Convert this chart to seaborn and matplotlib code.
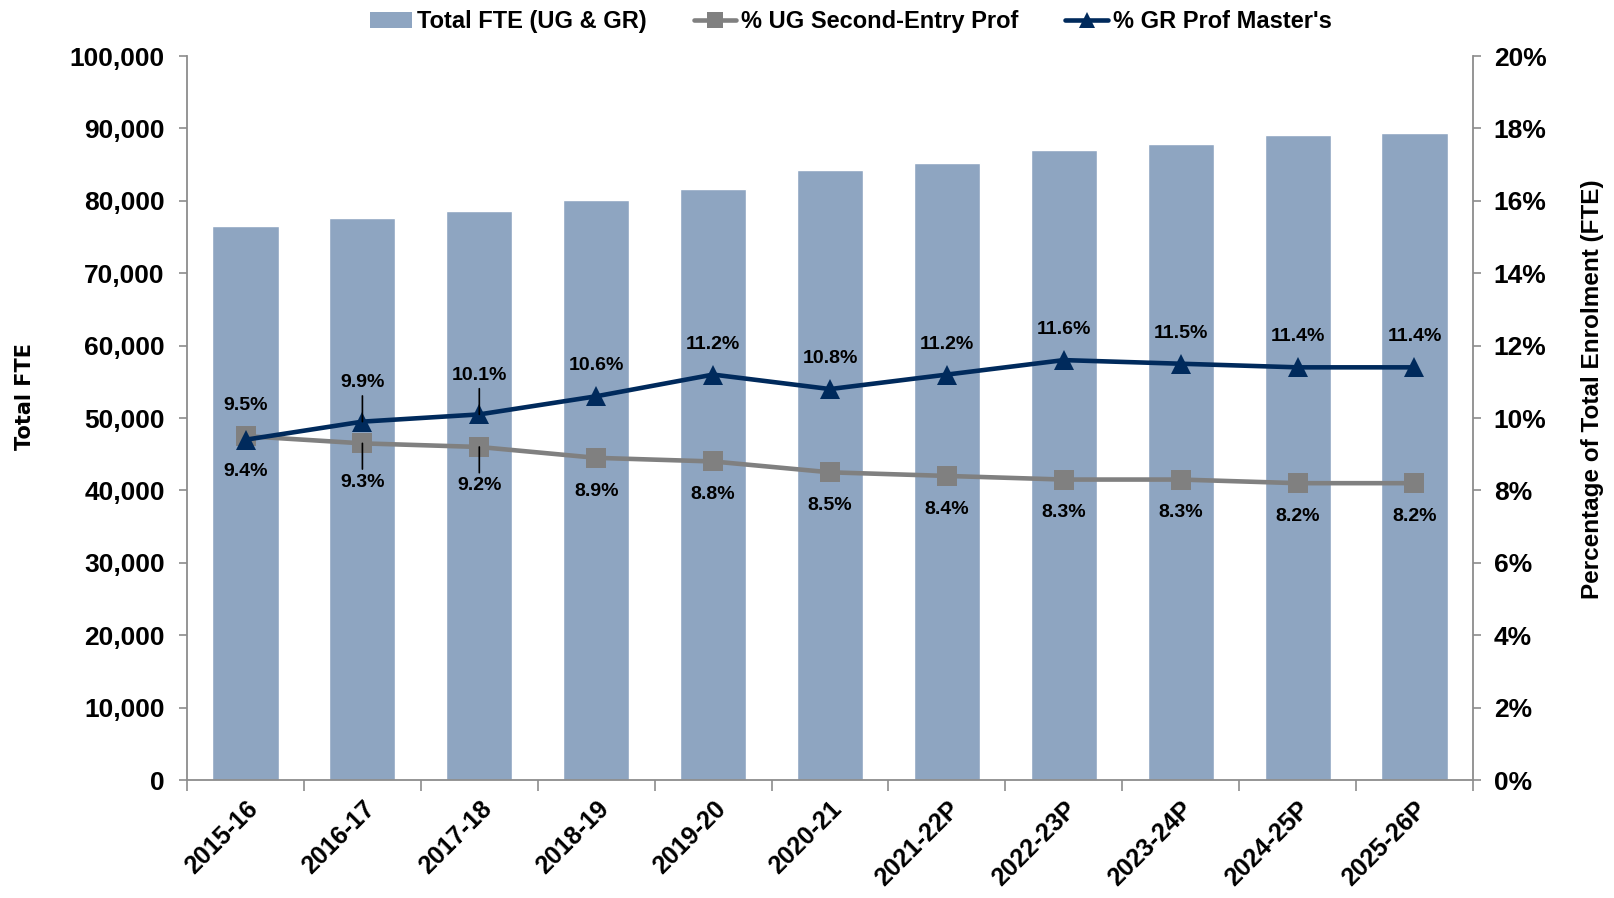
import numpy as np
import matplotlib
matplotlib.use("Agg")
import matplotlib.pyplot as plt
import seaborn as sns
from matplotlib.ticker import FuncFormatter, MultipleLocator
from matplotlib.lines import Line2D
from matplotlib.patches import Patch

years = ["2015-16", "2016-17", "2017-18", "2018-19", "2019-20", "2020-21",
         "2021-22P", "2022-23P", "2023-24P", "2024-25P", "2025-26P"]
total_fte = [76550, 77650, 78600, 80050, 81700, 84200, 85250, 87000, 87800, 89050, 89400]
ug_second_entry = [9.5, 9.3, 9.2, 8.9, 8.8, 8.5, 8.4, 8.3, 8.3, 8.2, 8.2]
gr_prof_masters = [9.4, 9.9, 10.1, 10.6, 11.2, 10.8, 11.2, 11.6, 11.5, 11.4, 11.4]

BAR = "#8ea5c1"
GRAY = "#808080"
NAVY = "#002a5c"
AXIS = "#8c8c8c"

sns.set_theme(style="white")
plt.rcParams["font.family"] = ["Liberation Sans", "DejaVu Sans"]
plt.rcParams["font.weight"] = "bold"
plt.rcParams["text.color"] = "black"
plt.rcParams["axes.labelcolor"] = "black"
plt.rcParams["xtick.color"] = "black"
plt.rcParams["ytick.color"] = "black"

fig = plt.figure(figsize=(16.14, 8.98), dpi=100)
ax = fig.add_axes([0.1159, 0.1314, 0.7967, 0.8062])

sns.barplot(x=years, y=total_fte, color=BAR, saturation=1, width=0.565, ax=ax)
ax.set_xlim(-0.5, len(years) - 0.5)
ax.set_ylim(0, 100000)

ax2 = ax.twinx()
pos = np.arange(len(years))
sns.lineplot(x=pos, y=ug_second_entry, ax=ax2, color=GRAY, linewidth=3.3,
             marker="s", markersize=15, markeredgewidth=0)
sns.lineplot(x=pos, y=gr_prof_masters, ax=ax2, color=NAVY, linewidth=3.3,
             marker="^", markersize=15, markeredgewidth=0)
ax2.set_ylim(0, 20)
ax2.set_xlim(-0.5, len(years) - 0.5)

# data labels
lab = dict(ha="center", va="center", fontsize=14, fontweight="bold",
           color="black", textcoords="offset points")
leader = dict(arrowstyle="-", color="black", lw=1.2, shrinkA=1, shrinkB=0)
for i, (u, g) in enumerate(zip(ug_second_entry, gr_prof_masters)):
    if i == 0:
        ax2.annotate(f"{u:.1f}%", (i, u), xytext=(0, 22), **lab)
        ax2.annotate(f"{g:.1f}%", (i, g), xytext=(0, -23), **lab)
    elif i in (1, 2):
        ax2.annotate(f"{g:.1f}%", (i, g), xytext=(0, 28), arrowprops=leader, **lab)
        ax2.annotate(f"{u:.1f}%", (i, u), xytext=(0, -28), arrowprops=leader, **lab)
    else:
        ax2.annotate(f"{g:.1f}%", (i, g), xytext=(0, 22), **lab)
        ax2.annotate(f"{u:.1f}%", (i, u), xytext=(0, -24), **lab)

# axes styling
for a in (ax, ax2):
    a.spines["top"].set_visible(False)
    a.set_xlabel("")
ax.spines["right"].set_visible(False)
ax2.spines["left"].set_visible(False)
ax2.spines["bottom"].set_visible(False)
ax.spines["left"].set_color(AXIS)
ax.spines["bottom"].set_color(AXIS)
ax2.spines["right"].set_color(AXIS)
for s in ("left", "bottom"):
    ax.spines[s].set_linewidth(1.3)
ax2.spines["right"].set_linewidth(1.3)

ax.yaxis.set_major_locator(MultipleLocator(10000))
ax.yaxis.set_major_formatter(FuncFormatter(lambda v, p: f"{v:,.0f}"))
ax2.yaxis.set_major_locator(MultipleLocator(2))
ax2.yaxis.set_major_formatter(FuncFormatter(lambda v, p: f"{v:.0f}%"))

ax.tick_params(axis="y", length=6, width=1.2, color=AXIS, labelcolor="black",
               labelsize=19, pad=10)
ax2.tick_params(axis="y", length=6, width=1.2, color=AXIS, labelcolor="black",
                labelsize=19, pad=9)
ax.set_xticks(pos)
ax.set_xticklabels(years, rotation=45, ha="right", rotation_mode="anchor",
                   fontsize=18, fontweight="bold", color="black")
ax.set_xticks(np.arange(-0.5, len(years), 1), minor=True)
ax.tick_params(axis="x", which="major", length=0, pad=12)
ax.tick_params(axis="x", which="minor", length=8, width=1.2, color=AXIS, bottom=True)
ax2.tick_params(axis="x", which="both", length=0, labelbottom=False)
for t in ax.get_yticklabels() + ax2.get_yticklabels():
    t.set_fontweight("bold")

ax.set_ylabel("Total FTE", fontsize=15, fontweight="bold", family="DejaVu Sans")
ax.yaxis.set_label_coords(-0.118, 0.53)
ax2.set_ylabel("Percentage of Total Enrolment (FTE)", fontsize=17.5, fontweight="bold")
ax2.yaxis.set_label_coords(1.084, 0.54)

handles = [
    Patch(facecolor=BAR, edgecolor="none"),
    Line2D([], [], color=GRAY, lw=3.3, marker="s", markersize=11, markeredgewidth=0),
    Line2D([], [], color=NAVY, lw=3.3, marker="^", markersize=11, markeredgewidth=0),
]
labels = ["Total FTE (UG & GR)", "% UG Second-Entry Prof", "% GR Prof Master's"]
fig.legend(handles, labels, loc="center", bbox_to_anchor=(0.527, 0.976), ncol=3,
           frameon=False, fontsize=17, handlelength=1.8, handletextpad=0.2,
           columnspacing=2.0)

fig.savefig("out.png", dpi=100)
